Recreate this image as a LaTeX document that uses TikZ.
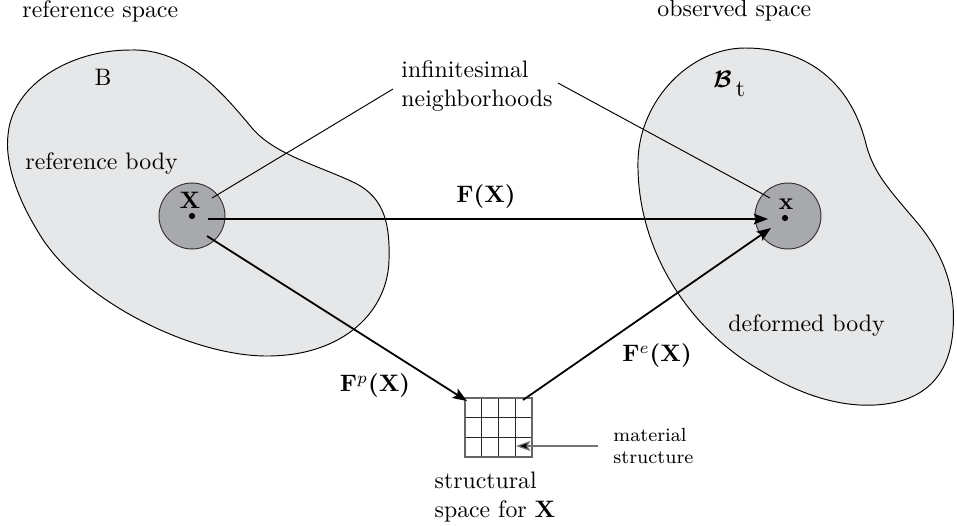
\documentclass[tikz,border=0pt]{standalone}
\usepackage{bm}
\usetikzlibrary{arrows.meta}
\definecolor{bodyfill}{HTML}{E6E7E8}
\definecolor{nbfill}{HTML}{A7A9AC}
\begin{document}
\begin{tikzpicture}[x=0.42pt,y=-0.42pt,
  blob/.style={fill=bodyfill,draw=black,line width=0.4pt},
  nbhd/.style={circle,fill=nbfill,draw=black!80,line width=0.4pt,minimum size=27.7pt,inner sep=0pt},
  leader/.style={line width=0.4pt},
  maparrow/.style={line width=0.75pt,-{Stealth[length=6pt,width=4.5pt,inset=1.2pt]}},
  gridline/.style={line width=0.5pt,draw=black!85},
  txt/.style={inner sep=0pt,font=\normalsize},
  smalltxt/.style={inner sep=0pt,font=\footnotesize,align=left}]
\useasboundingbox (0,0) rectangle (957,525);

% reference body
\draw[blob] (130,50) .. controls (185,48) and (222,92) .. (252,128)
  .. controls (275,155) and (320,166) .. (355,183)
  .. controls (385,198) and (390,225) .. (389,260)
  .. controls (388,310) and (345,356) .. (267,356)
  .. controls (190,356) and (80,300) .. (40,235)
  .. controls (15,195) and (5,160) .. (8,135)
  .. controls (12,85) and (70,50) .. (130,50) -- cycle;
% deformed body
\draw[blob] (745,48) .. controls (690,48) and (640,100) .. (638,160)
  .. controls (636,250) and (690,330) .. (760,370)
  .. controls (800,395) and (840,407) .. (875,405)
  .. controls (930,402) and (950,370) .. (953,330)
  .. controls (956,290) and (945,255) .. (915,220)
  .. controls (885,185) and (872,170) .. (865,140)
  .. controls (850,85) and (810,48) .. (745,48) -- cycle;

% neighborhoods
\node[nbhd] (nX) at (192,216) {};
\node[nbhd] (nx) at (788,216) {};
\fill (192,216) circle (1.3pt);
\fill (785,218) circle (1.3pt);
\node[txt] (lX) at (190,200) {$\mathbf{X}$};
\node[txt] (lx) at (786,204) {$\mathbf{x}$};

% texts
\node[txt,anchor=west] (refspace) at (22,11) {reference space};
\node[txt,anchor=west] (obsspace) at (657,11) {observed space};
\node[txt] (B) at (103,77) {B};
\node[txt,anchor=west] (refbody) at (25,164) {reference body};
\node[txt,anchor=west] (Bt) at (713,84) {$\bm{\mathcal{B}}$\,\raisebox{-3.5pt}{t}};
\node[txt,anchor=west] (defbody) at (728,326) {deformed body};
\node[txt,align=left] (inf) at (477,86) {infinitesimal\\neighborhoods};
\node[txt] (FX) at (486,197) {\textbf{F(X)}};
\node[txt] (FpX) at (375,386) {\textbf{F}$^{p}$\textbf{(X)}};
\node[txt] (FeX) at (657,356) {\textbf{F}$^{e}$\textbf{(X)}};
\node[txt,align=left] (struct) at (495,497) {structural\\space for \textbf{X}};
\node[smalltxt,anchor=west] (mat) at (613,446) {material\\structure};

% grid (structural space)
\foreach \gx in {465,481.75,498.5,515.25,532} \draw[gridline] (\gx,398) -- (\gx,457);
\foreach \gy in {398,417.67,437.33,457} \draw[gridline] (465,\gy) -- (532,\gy);
\draw[line width=0.5pt,draw=black!60] (465,398) rectangle (532,457);

% coordinates for connectors
\coordinate (lA) at (393,89);
\coordinate (lAe) at (212,198);
\coordinate (lB) at (558,83);
\coordinate (lBe) at (770,198);
\coordinate (fs) at (208,219);
\coordinate (fe) at (768,219);
\coordinate (ps) at (207,236);
\coordinate (pe) at (467,401);
\coordinate (es) at (523,400);
\coordinate (ee) at (771,228);
\coordinate (ms) at (598,446);
\coordinate (me) at (516,446);

\draw[leader] (lA) -- (lAe);
\draw[leader] (lB) -- (lBe);
\draw[maparrow] (fs) -- (fe);
\draw[maparrow] (ps) -- (pe);
\draw[maparrow] (es) -- (ee);
\draw[line width=0.5pt,draw=black!55,-{Stealth[length=6pt,width=4.2pt,inset=1.2pt,fill=black]}] (ms) -- (me);
\end{tikzpicture}
\end{document}
